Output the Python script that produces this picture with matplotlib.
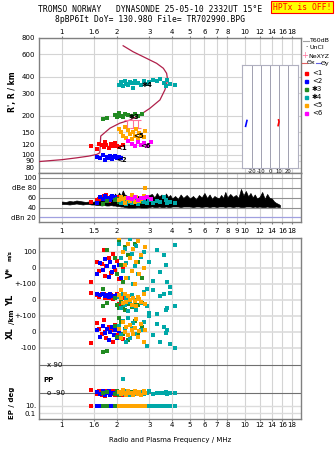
import matplotlib
matplotlib.use("Agg")
import matplotlib.pyplot as plt
import numpy as np

W, H = 335, 451

# frequency axis
freq_ticks = [1, 1.5, 2, 3, 4, 5, 6, 7, 8, 10, 12, 14, 16, 18]
freq_labels_top = ["1", "1.6", "2", "3", "4", "5", "6", "7", "8", "10", "12", "14", "16", "18"]
freq_ticks_mid = [1, 1.5, 2, 3, 4, 5, 6, 7, 8, 9, 10, 12, 14, 16, 18]
freq_labels_mid = ["1", "1.5", "2", "3", "4", "5", "6", "7", "8", "9", "10", "12", "14", "16", "18"]
height_ticks = [80, 90, 100, 120, 150, 200, 300, 400, 600, 800]

# model profile (plasma frequency vs real height)
prof_f = [0.75, 1.0, 1.2, 1.4, 1.55, 1.61, 1.62, 1.63, 1.83, 2.07, 2.35, 2.67, 3.02, 3.43,
          3.65, 3.78, 3.73, 3.58, 3.29, 2.9, 2.45, 2.16]
prof_h = [89, 92, 95, 98, 101, 104, 120, 140, 161, 176, 186, 204, 229, 266,
          318, 379, 427, 467, 510, 557, 626, 697]

# NeXYZ bars
ne_f = [2.27, 2.45, 2.6]
ne_h = [173, 173, 171]
ne_lo = [12, 12, 10]
ne_hi = [13, 13, 15]

# echo groups
red_f = [1.45, 1.55, 1.6, 1.65, 1.7, 1.72, 1.75, 1.8, 1.85, 1.9, 1.95, 2.0, 2.05, 2.15]
red_r = [118, 112, 122, 120, 116, 125, 119, 114, 121, 117, 123, 118, 115, 120]
red_v = [-85, 40, -20, 25, 110, -50, 10, 60, -30, 85, -10, 45, -70, 5]
red_yl = [45, 30, 20, 35, 40, 10, 25, 15, 30, 5, 20, 35, -25, 10]
red_xl = [-70, 55, 20, -10, 75, 0, -40, 30, 10, -60, 45, -20, 5, -45]
red_pp = [-70, -95, -80, -100, -85, -110, -75, -90, -95, -80, -105, -88, -92, -100]
red_ep = [9.5, 10.2, 10, 9.8, 10.5, 10, 9.7, 10.1, 10.3, 9.9, 10, 10.2, 9.6, 10]
red_db = [52, 55, 58, 60, 63, 57, 66, 54, 61, 59, 56, 62, 53, 58]

blue_f = [1.55, 1.62, 1.68, 1.72, 1.76, 1.8, 1.84, 1.88, 1.92, 1.96, 2.0, 2.05, 2.1]
blue_r = [96, 94, 100, 92, 97, 95, 99, 93, 96, 98, 94, 97, 95]
blue_v = [-40, 30, -10, 55, 15, -55, 40, -25, 5, 60, -35, 20, -60]
blue_yl = [40, 30, 35, 25, 30, 20, 35, 28, 25, 15, 30, 22, 18]
blue_xl = [10, -30, 40, -5, 20, -50, 0, 30, -20, 15, -40, 5, -15]
blue_pp = [-85, -95, -75, -100, -90, -80, -105, -92, -88, -98, -82, -95, -90]
blue_ep = [10, 9.8, 10.2, 10, 10.1, 9.9, 10, 10.3, 9.7, 10, 10.1, 9.9, 10]
blue_db = [50, 62, 58, 64, 57, 60, 55, 63, 59, 61, 56, 58, 54]

green_f = [1.68, 1.76, 1.95, 2.0, 2.05, 2.1, 2.15, 2.2, 2.3, 2.4, 2.5, 2.6, 2.75]
green_r = [190, 192, 205, 198, 210, 200, 195, 207, 203, 199, 206, 201, 208]
green_v = [-130, 110, 60, -40, 175, 20, -90, 130, 80, -20, 150, 40, -60]
green_yl = [-40, -20, 10, -30, -50, -10, -35, -60, -25, -45, -15, -30, -20]
green_xl = [-125, -120, 40, -30, 90, 60, -10, 20, -50, 10, 70, -20, 30]
green_pp = [-90, -85, -95, -80, -100, -90, -88, -92, -95, -85, -98, -90, -82]
green_ep = [10, 10.1, 9.9, 10, 10.2, 9.8, 10, 10.1, 10, 9.9, 10.2, 10, 10]
green_db = [48, 53, 55, 58, 52, 56, 60, 54, 57, 50, 53, 55, 51]

cyan_f = [2.05, 2.1, 2.15, 2.2, 2.25, 2.3, 2.35, 2.4, 2.45, 2.5, 2.55, 2.6, 2.7, 2.8,
          2.9, 3.0, 3.15, 3.3, 3.45, 3.6, 3.7, 3.75, 3.9, 4.15]
cyan_r = [350, 365, 340, 372, 355, 345, 368, 360, 330, 375, 358, 362, 348, 370,
          355, 365, 380, 372, 385, 360, 340, 378, 352, 345]
cyan_v = [150, 60, -20, 120, 30, -60, 180, 90, -100, 10, 140, -40, 70, 100,
          -130, 40, -80, 110, -25, 80, 20, -90, -120, 145]
cyan_yl = [20, -50, 40, -30, 10, -70, -10, 30, -40, 0, -60, 15, -20, 50,
           -35, -80, 60, -90, 25, 40, -60, -50, 45, -40]
cyan_xl = [40, -20, 70, 10, -60, 90, -40, 25, 55, -10, 80, -30, 15, 60,
           -90, 100, -20, 50, -60, 30, -5, 10, -75, -100]
cyan_pp = [-90, -85, 0, -95, -80, -90, -100, -88, -92, -75, -95, -90, -85, -98,
           -90, -80, -95, -88, -92, -90, -85, -95, -90, -88]
cyan_ep = [10, 9.9, 10.1, 10, 10.2, 9.8, 10, 10.1, 10, 9.9, 10.2, 10, 10, 9.8,
           10.1, 10, 9.9, 10.2, 10, 10.1, 9.9, 10, 10.2, 10]
cyan_db = [55, 50, 58, 53, 47, 56, 52, 49, 57, 54, 51, 48, 55, 52,
           50, 56, 49, 53, 51, 61, 55, 49, 52, 50]

orange_f = [2.05, 2.1, 2.15, 2.2, 2.25, 2.3, 2.35, 2.4, 2.45, 2.5, 2.55, 2.6, 2.65, 2.7, 2.8, 2.85]
orange_r = [160, 150, 140, 165, 135, 155, 145, 132, 150, 140, 158, 136, 148, 142, 138, 152]
orange_v = [190, -140, 100, 20, -60, 150, 60, -20, 120, -100, 40, 170, -40, 80, 0, 130]
orange_yl = [30, 10, -20, 40, -10, 25, 0, -30, 15, -5, -40, 20, 5, -15, 35, -25]
orange_xl = [20, -40, 60, 0, 30, -20, 45, 10, -10, 25, 80, -30, 5, 50, -60, 15]
orange_pp = [-85, -95, -70, -90, -100, -80, -92, -88, -105, -75, -90, -95, -85, -100, -80, -90]
orange_ep = [10, 9.9, 10.1, 10, 10.2, 9.8, 10, 10.1, 10, 9.9, 10.2, 10, 10, 9.8, 10.1, 10]
orange_db = [55, 62, 58, 50, 60, 57, 53, 65, 59, 52, 61, 56, 54, 58, 63, 80]

magenta_f = [2.3, 2.4, 2.5, 2.6, 2.7, 2.8, 2.9, 3.05]
magenta_r = [128, 122, 118, 125, 120, 124, 117, 127]
magenta_db = [60, 58, 62, 56, 60, 59, 61, 57]

# tilt inset
tilt_blue_x = [-27, -26.5, -26, -25.5]
tilt_blue_h = [166, 172, 178, 184]
tilt_red_x = [9, 9.5, 10, 9.5]
tilt_red_h = [168, 174, 180, 186]

# noise trace (dBe)
noise_f = [1.0, 1.05, 1.1, 1.15, 1.2, 1.25, 1.3, 1.35, 1.4, 1.45, 1.5, 1.55, 1.6, 1.65, 1.7,
           1.75, 1.8, 1.85, 1.9, 1.95, 2.0, 2.05, 2.1, 2.15, 2.2, 2.3, 2.4, 2.5, 2.6, 2.7,
           2.8, 2.9, 3.0, 3.1, 3.2, 3.3, 3.4, 3.5, 3.6, 3.7, 3.8, 3.9, 4.0, 4.15, 4.3, 4.45,
           4.6, 4.8, 5.0, 5.2, 5.4, 5.6, 5.8, 6.0, 6.2, 6.4, 6.6, 6.8, 7.0, 7.2, 7.4, 7.6,
           7.8, 8.0, 8.3, 8.6, 8.9, 9.2, 9.5, 9.8, 10.1, 10.4, 10.7, 11.0, 11.3, 11.6, 12.0,
           12.4, 12.8, 13.2, 13.6, 14.0, 14.4, 14.8, 15.2, 15.5]
noise_lo = [47, 47, 46, 47, 48, 47, 46, 47, 47, 46, 46, 45, 45, 44, 45,
            44, 44, 45, 44, 44, 43, 43, 42, 42, 41, 40, 40, 40, 41, 40,
            40, 40, 41, 42, 41, 41, 42, 41, 41, 42, 41, 41, 42, 42, 42, 41,
            42, 42, 42, 41, 42, 42, 41, 42, 42, 41, 42, 42, 41, 42, 42, 42,
            41, 42, 42, 41, 42, 42, 41, 41, 42, 42, 42, 41, 42, 41, 42,
            41, 41, 42, 41, 41, 41, 42, 41, 41]
noise_hi = [52, 51, 53, 52, 54, 53, 52, 51, 52, 51, 52, 51, 53, 55, 53,
            60, 56, 65, 58, 68, 61, 70, 63, 74, 66, 62, 64, 60, 63, 59,
            62, 58, 65, 67, 60, 69, 62, 66, 59, 68, 61, 65, 58, 63, 57, 66,
            59, 65, 58, 63, 56, 65, 60, 69, 59, 66, 57, 63, 60, 58, 65, 59,
            71, 60, 67, 61, 65, 59, 77, 64, 73, 62, 69, 60, 66, 58, 61,
            71, 57, 67, 59, 58, 52, 49, 47, 45]

groups = [
    ("red", "#ff0000", red_f, red_r, red_v, red_yl, red_xl, red_pp, red_ep, red_db),
    ("blue", "#0000ff", blue_f, blue_r, blue_v, blue_yl, blue_xl, blue_pp, blue_ep, blue_db),
    ("green", "#228b22", green_f, green_r, green_v, green_yl, green_xl, green_pp, green_ep, green_db),
    ("cyan", "#00a8a8", cyan_f, cyan_r, cyan_v, cyan_yl, cyan_xl, cyan_pp, cyan_ep, cyan_db),
    ("orange", "#ffa500", orange_f, orange_r, orange_v, orange_yl, orange_xl, orange_pp, orange_ep, orange_db),
]
MAG = "#ff00ff"

GRID = "#d4d4d4"
FRAME = "#808080"
MS = 6


def rect(x0, y0, x1, y1):
    return [x0 / W, 1 - y1 / H, (x1 - x0) / W, (y1 - y0) / H]


# bottom-panel stacking (m/s units, 16 px per 100)
OFF_V, OFF_YL, OFF_XL = 400, 200, 0
U90, UM90 = -206.25, -381.25


def pp_u(pp):
    return UM90 + (np.asarray(pp) + 90) / 180 * (U90 - UM90)


def ep_u(ep):
    return -462.5 + (np.log10(ep) - 1) * 21.875


def freq_axis(ax, ticks, labels, top=False, pad=1):
    ax.set_xscale("log")
    ax.set_xlim(0.75, 20.2)
    ax.set_xticks(ticks)
    ax.set_xticklabels(labels)
    ax.xaxis.set_minor_locator(matplotlib.ticker.NullLocator())
    ax.tick_params(axis="x", labelsize=5, length=1.5, color=FRAME, pad=pad,
                   top=top, labeltop=top, bottom=not top, labelbottom=not top)
    for t in ticks:
        ax.axvline(t, color=GRID, lw=0.8, zorder=0)
    for s in ax.spines.values():
        s.set_color(FRAME)
        s.set_linewidth(1)


plt.rcParams["font.family"] = ["DejaVu Sans"]
fig = plt.figure(figsize=(W / 100, H / 100), dpi=100)

# title
fig.text(150 / W, 1 - 10 / H, "TROMSO NORWAY   DYNASONDE 25-05-10 2332UT 15°E",
         family="DejaVu Sans Mono", fontsize=5.8, ha="center", va="center")
fig.text(150 / W, 1 - 19 / H, "8pBP6It DoY= 130.980 File= TR702990.BPG",
         family="DejaVu Sans Mono", fontsize=5.8, ha="center", va="center")
fig.text(302 / W, 1 - 7 / H, "HPTx is OFF!", family="DejaVu Sans Mono", fontsize=5.8,
         color="red", ha="center", va="center",
         bbox=dict(facecolor="#ffff00", edgecolor="red", boxstyle="square,pad=0.2", lw=0.8))

# ---------- top panel: heights ----------
ax1 = fig.add_axes(rect(39, 38, 301, 173))
freq_axis(ax1, freq_ticks, freq_labels_top, top=True, pad=0.5)
ax1.set_yscale("log")
ax1.set_ylim(72.6, 800)
ax1.set_yticks(height_ticks)
ax1.set_yticklabels([str(h) for h in height_ticks])
ax1.yaxis.set_minor_locator(matplotlib.ticker.NullLocator())
ax1.tick_params(axis="y", labelsize=5, length=0, pad=3)
for h in height_ticks:
    ax1.axhline(h, color=GRID, lw=0.8, zorder=0)

ax1.plot(prof_f, prof_h, color="#b0204a", lw=0.9, zorder=3)
ax1.errorbar(ne_f, ne_h, yerr=[ne_lo, ne_hi], fmt="none", ecolor="#ff6f9a",
             elinewidth=0.8, capsize=2, capthick=0.8, zorder=3)
for name, c, f, r, v, yl, xl, pp, ep, db in groups:
    ax1.scatter(f, r, s=MS, marker="s", color=c, lw=0, zorder=4)
ax1.scatter(magenta_f, magenta_r, s=MS, marker="s", color=MAG, lw=0, zorder=4)

lbl_kw = dict(fontsize=5, fontweight="bold", color="black", ha="center", va="center", zorder=6)
ax1.text(2.12, 114, "<1", **lbl_kw)
ax1.text(2.12, 92, "<2", **lbl_kw)
ax1.text(2.47, 196, "✱3", **lbl_kw)
ax1.text(2.92, 350, "✱4", **lbl_kw)
ax1.text(2.63, 141, "<5", **lbl_kw)
ax1.text(2.85, 118, "<6", **lbl_kw)
fig.text(12 / W, 1 - 92 / H, "R', R / km", rotation=90, fontsize=5.5,
         fontweight="bold", ha="center", va="center")

# tilt inset
axi = fig.add_axes(rect(242, 65, 298, 168))
axi.set_facecolor("white")
axi.set_xlim(-31, 31)
axi.set_yscale("log")
axi.set_ylim(79, 494)
axi.set_yticks([])
axi.yaxis.set_minor_locator(matplotlib.ticker.NullLocator())
axi.set_xticks([-20, -10, 0, 10, 20])
axi.set_xticklabels(["-20", "-10", "0", "10", "20"])
axi.tick_params(axis="x", labelsize=3.8, length=0, pad=1)
for t in [-20, -10, 0, 10, 20]:
    axi.axvline(t, color="#a0a0b0", lw=0.7, zorder=0)
for s in axi.spines.values():
    s.set_color("#b0b0c0")
    s.set_linewidth(0.8)
axi.set_xlabel("Tilt / deg", fontsize=3.8, labelpad=0)
axi.plot(tilt_blue_x, tilt_blue_h, color="blue", lw=1.2)
axi.plot(tilt_red_x, tilt_red_h, color="red", lw=1.2)

# legend outside right
fig.lines.append(plt.Line2D([303 / W, 309 / W], [1 - 41 / H] * 2, color="#a0a0a0", lw=0.8,
                            transform=fig.transFigure))
fig.text(310 / W, 1 - 41 / H, "T60dB", fontsize=4.5, va="center")
fig.text(306 / W, 1 - 47.5 / H, "·", fontsize=5, va="center", ha="center")
fig.text(309 / W, 1 - 47.5 / H, "UnCl", fontsize=4.5, va="center")
fig.text(305 / W, 1 - 56 / H, "+", fontsize=6, color="#ff6f9a", va="center", ha="center")
fig.text(308 / W, 1 - 56 / H, "NeXYZ", fontsize=4.5, va="center")
fig.lines.append(plt.Line2D([302 / W, 307 / W], [1 - 63 / H] * 2, color="#e06060", lw=0.8,
                            transform=fig.transFigure))
fig.text(307 / W, 1 - 63 / H, "Θx", fontsize=4.5, va="center")
fig.lines.append(plt.Line2D([316 / W, 321 / W], [1 - 63 / H] * 2, color="#6060e0", lw=0.8,
                            transform=fig.transFigure))
fig.text(321 / W, 1 - 63 / H, "Θy", fontsize=4.5, va="center")
leg_items = [("#ff0000", "<1", 73), ("#0000ff", "<2", 81), ("#228b22", "✱3", 89),
             ("#00a8a8", "✱4", 97), ("#ffa500", "<5", 105), (MAG, "<6", 113)]
for c, t, y in leg_items:
    fig.patches.append(plt.Rectangle((305 / W, 1 - (y + 1.5) / H), 3 / W, 3 / H,
                                     color=c, transform=fig.transFigure))
    fig.text(312 / W, 1 - y / H, t, fontsize=5, va="center")

# ---------- dBe panel ----------
ax2 = fig.add_axes(rect(39, 173, 301, 222))
freq_axis(ax2, freq_ticks_mid, freq_labels_mid, pad=3)
ax2.set_ylim(11, 109)
ax2.set_yticks([20, 40, 60, 80, 100])
ax2.set_yticklabels(["dBn 20", "40", "60", "dBe 80", "100"])
ax2.tick_params(axis="y", labelsize=5, length=0, pad=2)
for yv in [40, 60, 80, 100]:
    ax2.axhline(yv, color="#909090", lw=0.8, zorder=0)
ax2.axhline(20, color="#a0a0e0", lw=0.9, zorder=0)
ax2.fill_between(noise_f, noise_lo, noise_hi, color="black", lw=0.5, edgecolor="black", zorder=2)
for name, c, f, r, v, yl, xl, pp, ep, db in groups:
    ax2.scatter(f, db, s=MS, marker="s", color=c, lw=0, zorder=4)
ax2.scatter(magenta_f, magenta_db, s=MS, marker="s", color=MAG, lw=0, zorder=4)

# ---------- bottom panel: V*, YL, XL, PP, EP ----------
ax3 = fig.add_axes(rect(39, 238, 301, 419))
freq_axis(ax3, freq_ticks, freq_labels_top, pad=1)
ax3.set_ylim(-543.75, 587.5)
ax3.set_xlabel("Radio and Plasma Frequency / MHz", fontsize=5, labelpad=6)
ytk = [500, 400, 300, 200, 100, 0, -100, -462.5, -506.25]
ytl = ["100", "0", "+-100", "0", "+-100", "0", "-100", "10.", "0.1"]
ax3.set_yticks(ytk)
ax3.set_yticklabels(ytl)
ax3.tick_params(axis="y", labelsize=5, length=0, pad=2)
for yv in [500, 400, 300, 200, 100, 0, -100]:
    ax3.axhline(yv, color="#dcdcdc", lw=1.2, zorder=0)
for yv in [-462.5, -506.25]:
    ax3.axhline(yv, color="#dcdcdc", lw=1.0, zorder=0)
ax3.axhline(U90, color="#707070", lw=0.8, zorder=1)
ax3.axhline(UM90, color="#707070", lw=0.8, zorder=1)
for name, c, f, r, v, yl, xl, pp, ep, db in groups:
    ax3.scatter(f, np.asarray(v) + OFF_V, s=MS, marker="s", color=c, lw=0, zorder=4)
    ax3.scatter(f, np.asarray(yl) + OFF_YL, s=MS, marker="s", color=c, lw=0, zorder=4)
    ax3.scatter(f, np.asarray(xl) + OFF_XL, s=MS, marker="s", color=c, lw=0, zorder=4)
    ax3.scatter(f, pp_u(pp), s=MS, marker="s", color=c, lw=0, zorder=4)
    ax3.scatter(f, ep_u(ep), s=MS, marker="s", color=c, lw=0, zorder=4)

bt = ax3.get_yaxis_transform()
ax3.text(0.03, U90, "x 90", transform=bt, fontsize=5, va="center")
ax3.text(0.03, UM90, "o -90", transform=bt, fontsize=5, va="center")
ax3.text(0.015, -300, "PP", transform=bt, fontsize=5, fontweight="bold", va="center")

side = dict(rotation=90, ha="center", va="center", fontweight="bold")
fig.text(10 / W, 1 - 272 / H, "V*", fontsize=6, **side)
fig.text(10 / W, 1 - 256 / H, "m/s", fontsize=4, **side)
fig.text(11 / W, 1 - 300 / H, "YL", fontsize=6, **side)
fig.text(12 / W, 1 - 317 / H, "/km", fontsize=5, **side)
fig.text(10 / W, 1 - 333 / H, "XL", fontsize=6, **side)
fig.text(12 / W, 1 - 403 / H, "EP / deg", fontsize=5, **side)

fig.savefig("out.png", dpi=100)
